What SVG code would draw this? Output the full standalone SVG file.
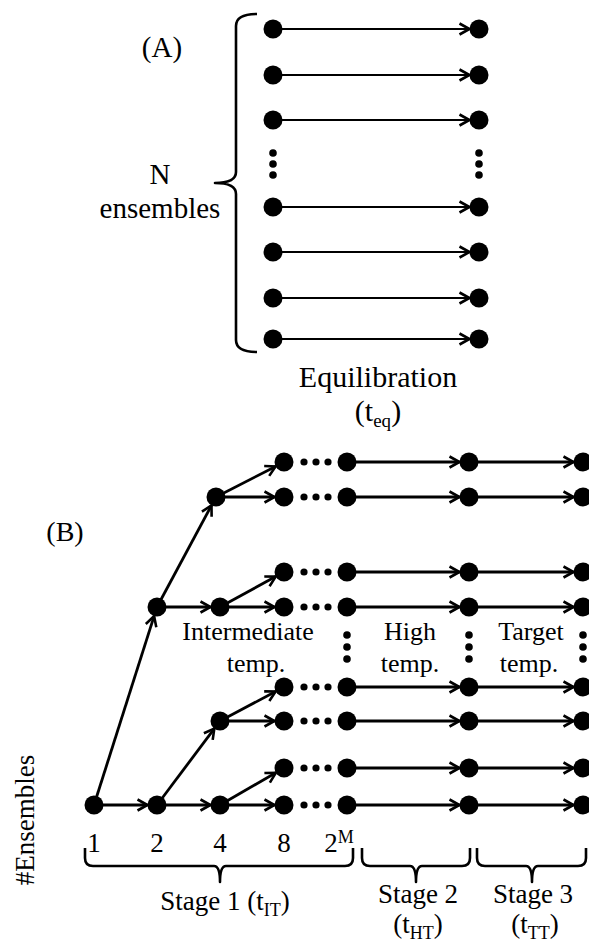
<svg xmlns="http://www.w3.org/2000/svg" width="589" height="947" viewBox="0 0 589 947">
<style>
  text { font-family: "Liberation Serif", "DejaVu Serif", serif; fill: #000; text-anchor: middle; }
  .dot { fill: #000; }
  .sd { fill: #000; }
  .ca { stroke: #000; stroke-width: 2.2; fill: none; marker-end: url(#ah); }
  .cb { stroke: #000; stroke-width: 2.8; fill: none; marker-end: url(#ah); }
  .br { stroke: #000; stroke-width: 2.6; fill: none; stroke-linejoin: round; }
</style>
<defs>
  <marker id="ah" markerUnits="userSpaceOnUse" markerWidth="16" markerHeight="16" refX="11" refY="6" orient="auto" overflow="visible">
    <path d="M1,0.5 L11,6 L1,11.5" fill="none" stroke="#000" stroke-width="2.6"/>
  </marker>
</defs>
<rect width="589" height="947" fill="#fff"/>

<!-- Part A labels -->
<g font-family="Liberation Serif, DejaVu Serif, serif" font-size="29">
<text x="162" y="57">(A)</text>
<text x="160" y="184">N</text>
<text x="160" y="218">ensembles</text>
<text x="378" y="387" font-size="30">Equilibration</text>
<text x="378" y="421" font-size="30">(t<tspan font-size="19" dy="6">eq</tspan><tspan dy="-6">)</tspan></text>
</g>
<path class="br" d="M257,14 Q236,14 236,26 L236,172 Q236,183 215,183 Q236,183 236,194 L236,340 Q236,352 257,352"/>

<!-- Part A connectors -->
<g id="connectors-a">
  <line class="ca" x1="273" y1="29" x2="469.5" y2="29"/>
  <line class="ca" x1="273" y1="75" x2="469.5" y2="75"/>
  <line class="ca" x1="273" y1="120" x2="469.5" y2="120"/>
  <line class="ca" x1="273" y1="207" x2="469.5" y2="207"/>
  <line class="ca" x1="273" y1="252" x2="469.5" y2="252"/>
  <line class="ca" x1="273" y1="298" x2="469.5" y2="298"/>
  <line class="ca" x1="273" y1="339" x2="469.5" y2="339"/>
</g>

<!-- Part A nodes -->
<g id="a-l1"><circle class="dot" cx="273" cy="29" r="9.5"/></g>
<g id="a-l2"><circle class="dot" cx="273" cy="75" r="9.5"/></g>
<g id="a-l3"><circle class="dot" cx="273" cy="120" r="9.5"/></g>
<g id="a-l4"><circle class="dot" cx="273" cy="207" r="9.5"/></g>
<g id="a-l5"><circle class="dot" cx="273" cy="252" r="9.5"/></g>
<g id="a-l6"><circle class="dot" cx="273" cy="298" r="9.5"/></g>
<g id="a-l7"><circle class="dot" cx="273" cy="339" r="9.5"/></g>
<g id="a-r1"><circle class="dot" cx="479" cy="29" r="9.5"/></g>
<g id="a-r2"><circle class="dot" cx="479" cy="75" r="9.5"/></g>
<g id="a-r3"><circle class="dot" cx="479" cy="120" r="9.5"/></g>
<g id="a-r4"><circle class="dot" cx="479" cy="207" r="9.5"/></g>
<g id="a-r5"><circle class="dot" cx="479" cy="252" r="9.5"/></g>
<g id="a-r6"><circle class="dot" cx="479" cy="298" r="9.5"/></g>
<g id="a-r7"><circle class="dot" cx="479" cy="339" r="9.5"/></g>
<g id="a-vdots">
  <circle class="sd" cx="273" cy="153" r="3.8"/><circle class="sd" cx="273" cy="164" r="3.8"/><circle class="sd" cx="273" cy="175" r="3.8"/>
  <circle class="sd" cx="479" cy="153" r="3.8"/><circle class="sd" cx="479" cy="164" r="3.8"/><circle class="sd" cx="479" cy="175" r="3.8"/>
</g>

<!-- Part B labels -->
<g font-family="Liberation Serif, DejaVu Serif, serif" font-size="26">
<text x="65" y="541" font-size="28">(B)</text>
<text x="248" y="640">Intermediate</text>
<text x="256" y="672">temp.</text>
<text x="410" y="640">High</text>
<text x="410" y="672">temp.</text>
<text x="531" y="640">Target</text>
<text x="529" y="672">temp.</text>
<text transform="translate(34,820) rotate(-90)" x="0" y="0" font-size="27">#Ensembles</text>

<text x="94" y="852" font-size="27">1</text>
<text x="157" y="852" font-size="27">2</text>
<text x="220" y="852" font-size="27">4</text>
<text x="284" y="852" font-size="27">8</text>
<text x="339" y="852" font-size="27">2<tspan font-size="18" dy="-9">M</tspan></text>

<text x="225" y="910" font-size="27">Stage 1 (t<tspan font-size="18" dy="6">IT</tspan><tspan dy="-6">)</tspan></text>
<text x="418" y="903" font-size="27">Stage 2</text>
<text x="418" y="933" font-size="27">(t<tspan font-size="18" dy="6">HT</tspan><tspan dy="-6">)</tspan></text>
<text x="533" y="903" font-size="27">Stage 3</text>
<text x="535" y="933" font-size="27">(t<tspan font-size="18" dy="6">TT</tspan><tspan dy="-6">)</tspan></text>
</g>

<path class="br" d="M85,848 L85,858 Q85,866 93,866 L214,866 Q220,866 220,882 Q220,866 226,866 L345,866 Q353,866 353,858 L353,848"/>
<path class="br" d="M362,848 L362,858 Q362,866 370,866 L410,866 Q416,866 416,882 Q416,866 422,866 L462,866 Q470,866 470,858 L470,848"/>
<path class="br" d="M477,848 L477,858 Q477,866 485,866 L526,866 Q532,866 532,882 Q532,866 538,866 L578,866 Q586,866 586,858 L586,848"/>

<!-- Part B connectors -->
<g id="connectors-b">
  <line class="cb" x1="94" y1="805" x2="147.5" y2="805"/>
  <line class="cb" x1="94" y1="805" x2="154.1" y2="616.1"/>
  <line class="cb" x1="157" y1="607" x2="211.5" y2="505.4"/>
  <line class="cb" x1="157" y1="607" x2="210.5" y2="607"/>
  <line class="cb" x1="157" y1="805" x2="214.3" y2="728.6"/>
  <line class="cb" x1="157" y1="805" x2="210.5" y2="805"/>

  <line class="cb" x1="216" y1="497" x2="275.6" y2="466.4"/>
  <line class="cb" x1="216" y1="497" x2="274.5" y2="497"/>
  <line class="cb" x1="220" y1="607" x2="275.7" y2="576.6"/>
  <line class="cb" x1="220" y1="607" x2="274.5" y2="607"/>
  <line class="cb" x1="220" y1="721" x2="275.6" y2="691.5"/>
  <line class="cb" x1="220" y1="721" x2="274.5" y2="721"/>
  <line class="cb" x1="220" y1="805" x2="275.8" y2="772.8"/>
  <line class="cb" x1="220" y1="805" x2="274.5" y2="805"/>

  <line class="cb" x1="347" y1="462" x2="459.5" y2="462"/>
  <line class="cb" x1="347" y1="497" x2="459.5" y2="497"/>
  <line class="cb" x1="347" y1="572" x2="459.5" y2="572"/>
  <line class="cb" x1="347" y1="607" x2="459.5" y2="607"/>
  <line class="cb" x1="347" y1="687" x2="459.5" y2="687"/>
  <line class="cb" x1="347" y1="721" x2="459.5" y2="721"/>
  <line class="cb" x1="347" y1="768" x2="459.5" y2="768"/>
  <line class="cb" x1="347" y1="805" x2="459.5" y2="805"/>

  <line class="cb" x1="469" y1="462" x2="573.5" y2="462"/>
  <line class="cb" x1="469" y1="497" x2="573.5" y2="497"/>
  <line class="cb" x1="469" y1="572" x2="573.5" y2="572"/>
  <line class="cb" x1="469" y1="607" x2="573.5" y2="607"/>
  <line class="cb" x1="469" y1="687" x2="573.5" y2="687"/>
  <line class="cb" x1="469" y1="721" x2="573.5" y2="721"/>
  <line class="cb" x1="469" y1="768" x2="573.5" y2="768"/>
  <line class="cb" x1="469" y1="805" x2="573.5" y2="805"/>
</g>

<!-- Part B nodes -->
<g id="b-n1"><circle class="dot" cx="94" cy="805" r="9.5"/></g>
<g id="b-n2a"><circle class="dot" cx="157" cy="607" r="9.5"/></g>
<g id="b-n2b"><circle class="dot" cx="157" cy="805" r="9.5"/></g>
<g id="b-n4a"><circle class="dot" cx="216" cy="497" r="9.5"/></g>
<g id="b-n4b"><circle class="dot" cx="220" cy="607" r="9.5"/></g>
<g id="b-n4c"><circle class="dot" cx="220" cy="721" r="9.5"/></g>
<g id="b-n4d"><circle class="dot" cx="220" cy="805" r="9.5"/></g>

<g id="b-n8-1"><circle class="dot" cx="284" cy="462" r="9.5"/></g>
<g id="b-n8-2"><circle class="dot" cx="284" cy="497" r="9.5"/></g>
<g id="b-n8-3"><circle class="dot" cx="284" cy="572" r="9.5"/></g>
<g id="b-n8-4"><circle class="dot" cx="284" cy="607" r="9.5"/></g>
<g id="b-n8-5"><circle class="dot" cx="284" cy="687" r="9.5"/></g>
<g id="b-n8-6"><circle class="dot" cx="284" cy="721" r="9.5"/></g>
<g id="b-n8-7"><circle class="dot" cx="284" cy="768" r="9.5"/></g>
<g id="b-n8-8"><circle class="dot" cx="284" cy="805" r="9.5"/></g>

<g id="b-ellipses">
  <g><circle class="sd" cx="304" cy="462" r="3.6"/><circle class="sd" cx="316" cy="462" r="3.6"/><circle class="sd" cx="328" cy="462" r="3.6"/></g>
  <g><circle class="sd" cx="304" cy="497" r="3.6"/><circle class="sd" cx="316" cy="497" r="3.6"/><circle class="sd" cx="328" cy="497" r="3.6"/></g>
  <g><circle class="sd" cx="304" cy="572" r="3.6"/><circle class="sd" cx="316" cy="572" r="3.6"/><circle class="sd" cx="328" cy="572" r="3.6"/></g>
  <g><circle class="sd" cx="304" cy="607" r="3.6"/><circle class="sd" cx="316" cy="607" r="3.6"/><circle class="sd" cx="328" cy="607" r="3.6"/></g>
  <g><circle class="sd" cx="304" cy="687" r="3.6"/><circle class="sd" cx="316" cy="687" r="3.6"/><circle class="sd" cx="328" cy="687" r="3.6"/></g>
  <g><circle class="sd" cx="304" cy="721" r="3.6"/><circle class="sd" cx="316" cy="721" r="3.6"/><circle class="sd" cx="328" cy="721" r="3.6"/></g>
  <g><circle class="sd" cx="304" cy="768" r="3.6"/><circle class="sd" cx="316" cy="768" r="3.6"/><circle class="sd" cx="328" cy="768" r="3.6"/></g>
  <g><circle class="sd" cx="304" cy="805" r="3.6"/><circle class="sd" cx="316" cy="805" r="3.6"/><circle class="sd" cx="328" cy="805" r="3.6"/></g>
  <circle class="sd" cx="347" cy="635" r="3.8"/><circle class="sd" cx="347" cy="647" r="3.8"/><circle class="sd" cx="347" cy="659" r="3.8"/>
  <circle class="sd" cx="469" cy="635" r="3.8"/><circle class="sd" cx="469" cy="647" r="3.8"/><circle class="sd" cx="469" cy="659" r="3.8"/>
  <circle class="sd" cx="583" cy="635" r="3.8"/><circle class="sd" cx="583" cy="647" r="3.8"/><circle class="sd" cx="583" cy="659" r="3.8"/>
</g>

<g id="b-nM-1"><circle class="dot" cx="347" cy="462" r="9.5"/></g>
<g id="b-nM-2"><circle class="dot" cx="347" cy="497" r="9.5"/></g>
<g id="b-nM-3"><circle class="dot" cx="347" cy="572" r="9.5"/></g>
<g id="b-nM-4"><circle class="dot" cx="347" cy="607" r="9.5"/></g>
<g id="b-nM-5"><circle class="dot" cx="347" cy="687" r="9.5"/></g>
<g id="b-nM-6"><circle class="dot" cx="347" cy="721" r="9.5"/></g>
<g id="b-nM-7"><circle class="dot" cx="347" cy="768" r="9.5"/></g>
<g id="b-nM-8"><circle class="dot" cx="347" cy="805" r="9.5"/></g>

<g id="b-nH-1"><circle class="dot" cx="469" cy="462" r="9.5"/></g>
<g id="b-nH-2"><circle class="dot" cx="469" cy="497" r="9.5"/></g>
<g id="b-nH-3"><circle class="dot" cx="469" cy="572" r="9.5"/></g>
<g id="b-nH-4"><circle class="dot" cx="469" cy="607" r="9.5"/></g>
<g id="b-nH-5"><circle class="dot" cx="469" cy="687" r="9.5"/></g>
<g id="b-nH-6"><circle class="dot" cx="469" cy="721" r="9.5"/></g>
<g id="b-nH-7"><circle class="dot" cx="469" cy="768" r="9.5"/></g>
<g id="b-nH-8"><circle class="dot" cx="469" cy="805" r="9.5"/></g>

<g id="b-nT-1"><circle class="dot" cx="583" cy="462" r="9.5"/></g>
<g id="b-nT-2"><circle class="dot" cx="583" cy="497" r="9.5"/></g>
<g id="b-nT-3"><circle class="dot" cx="583" cy="572" r="9.5"/></g>
<g id="b-nT-4"><circle class="dot" cx="583" cy="607" r="9.5"/></g>
<g id="b-nT-5"><circle class="dot" cx="583" cy="687" r="9.5"/></g>
<g id="b-nT-6"><circle class="dot" cx="583" cy="721" r="9.5"/></g>
<g id="b-nT-7"><circle class="dot" cx="583" cy="768" r="9.5"/></g>
<g id="b-nT-8"><circle class="dot" cx="583" cy="805" r="9.5"/></g>
</svg>
